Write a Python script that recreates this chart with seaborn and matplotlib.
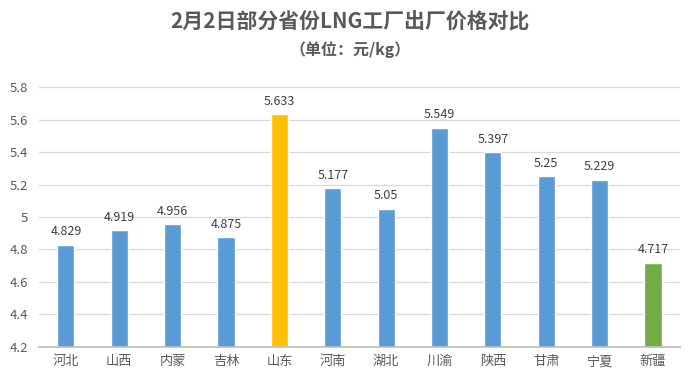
import pandas as pd
import seaborn as sns
import matplotlib.pyplot as plt
from matplotlib.ticker import FuncFormatter

provinces = ["河北", "山西", "内蒙", "吉林", "山东", "河南", "湖北", "川渝", "陕西", "甘肃", "宁夏", "新疆"]
prices = [4.829, 4.919, 4.956, 4.875, 5.633, 5.177, 5.05, 5.549, 5.397, 5.25, 5.229, 4.717]
bar_colors = ["#5B9BD5"] * 4 + ["#FFC000"] + ["#5B9BD5"] * 6 + ["#70AD47"]

sns.set_theme(style="white")
plt.rcParams["font.family"] = ["Noto Sans CJK SC", "DejaVu Sans"]

df = pd.DataFrame({"province": provinces, "price": prices})

fig = plt.figure(figsize=(7, 3.84), dpi=100)
ax = fig.add_axes([0.056, 0.0964, 0.915, 0.677])

sns.barplot(
    data=df,
    x="province",
    y="price",
    hue="province",
    palette=bar_colors,
    saturation=1,
    width=0.32,
    legend=False,
    ax=ax,
)

ax.set_ylim(4.2, 5.8)
ax.set_yticks([4.2 + 0.2 * i for i in range(9)])
ax.yaxis.set_major_formatter(FuncFormatter(lambda v, p: f"{round(v, 1):g}"))
ax.yaxis.grid(True, color="#D9D9D9", linewidth=0.9)
ax.set_axisbelow(True)
ax.set_xlabel("")
ax.set_ylabel("")

for s in ["top", "right", "left"]:
    ax.spines[s].set_visible(False)
ax.spines["bottom"].set_color("#BFBFBF")
ax.tick_params(axis="both", length=0, colors="#595959")
ax.tick_params(axis="y", labelsize=9.5, pad=8)
ax.tick_params(axis="x", labelsize=9.5, pad=6)

for i, v in enumerate(prices):
    ax.text(i, v + 0.04, f"{v:g}", ha="center", va="bottom", fontsize=9, color="#404040")

fig.text(0.5, 0.943, "2月2日部分省份LNG工厂出厂价格对比", ha="center", va="center",
         fontsize=15, fontweight="bold", color="#595959")
fig.text(0.5, 0.87, "（单位：元/kg）", ha="center", va="center",
         fontsize=11.5, fontweight="bold", color="#595959")

fig.savefig("out.png", dpi=100)
